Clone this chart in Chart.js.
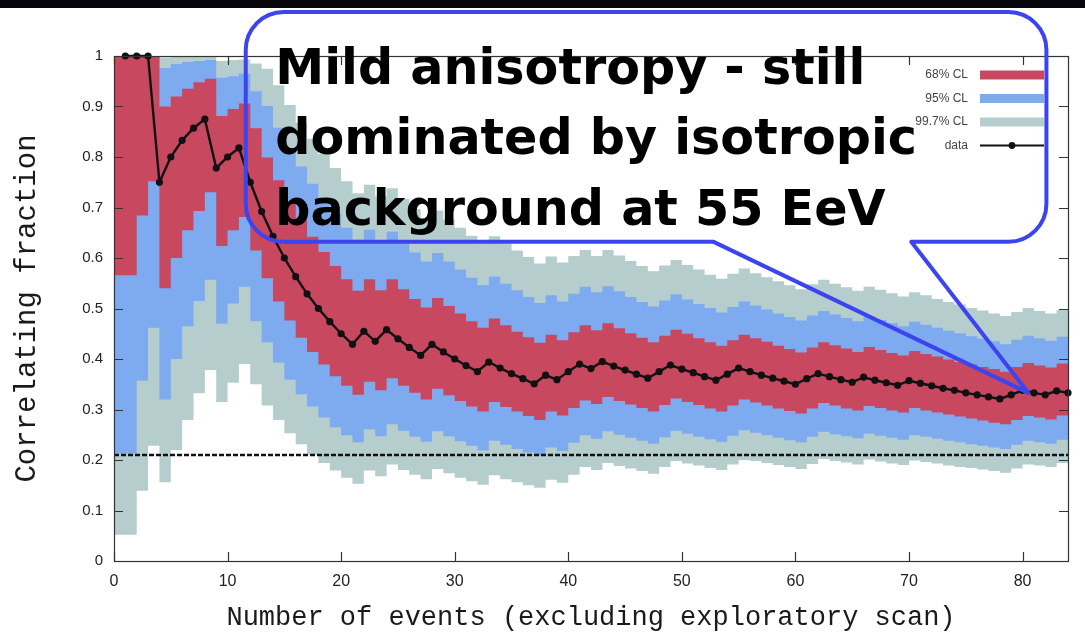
<!DOCTYPE html>
<html>
<head>
<meta charset="utf-8">
<script src="https://cdn.jsdelivr.net/npm/chart.js@4.4.1/dist/chart.umd.min.js"></script>
<style>
  html, body { margin: 0; padding: 0; background: #fff; }
  #wrap { position: relative; width: 1085px; height: 634px; }
</style>
</head>
<body>
<div id="wrap"><canvas id="chart"></canvas></div>
<script>
// correlating fraction vs number of events (n = 1..84)
const fraction = [
  1, 1, 1, 0.75, 0.8, 0.833, 0.857, 0.875, 0.778, 0.8,
  0.818, 0.75, 0.692, 0.643, 0.6, 0.563, 0.529, 0.5, 0.474, 0.45,
  0.429, 0.455, 0.435, 0.458, 0.44, 0.423, 0.407, 0.429, 0.414, 0.4,
  0.387, 0.375, 0.394, 0.382, 0.371, 0.361, 0.351, 0.368, 0.359, 0.375,
  0.39, 0.381, 0.395, 0.386, 0.378, 0.37, 0.362, 0.375, 0.388, 0.38,
  0.373, 0.365, 0.358, 0.37, 0.382, 0.375, 0.368, 0.362, 0.356, 0.35,
  0.361, 0.371, 0.365, 0.359, 0.354, 0.364, 0.358, 0.353, 0.348, 0.357,
  0.352, 0.347, 0.342, 0.338, 0.333, 0.329, 0.325, 0.321, 0.329, 0.338,
  0.333, 0.329, 0.337, 0.333
];

const cl68Low = [
  0.566, 0.684, 0.752, 0.54, 0.6, 0.655, 0.693, 0.73, 0.624, 0.655,
  0.681, 0.615, 0.56, 0.514, 0.476, 0.442, 0.414, 0.389, 0.366, 0.347,
  0.329, 0.355, 0.338, 0.362, 0.347, 0.333, 0.32, 0.341, 0.328, 0.317,
  0.306, 0.296, 0.315, 0.305, 0.296, 0.287, 0.279, 0.296, 0.288, 0.303,
  0.318, 0.311, 0.325, 0.317, 0.31, 0.303, 0.296, 0.309, 0.322, 0.315,
  0.309, 0.302, 0.296, 0.308, 0.32, 0.314, 0.308, 0.302, 0.297, 0.292,
  0.302, 0.313, 0.308, 0.302, 0.298, 0.307, 0.303, 0.298, 0.294, 0.303,
  0.298, 0.294, 0.29, 0.286, 0.282, 0.278, 0.274, 0.271, 0.279, 0.287,
  0.284, 0.28, 0.288, 0.284
];
const cl68High = [
  1, 1, 1, 0.9, 0.92, 0.935, 0.948, 0.955, 0.881, 0.895,
  0.906, 0.857, 0.799, 0.754, 0.713, 0.676, 0.642, 0.612, 0.584, 0.558,
  0.535, 0.558, 0.536, 0.558, 0.538, 0.519, 0.502, 0.521, 0.505, 0.49,
  0.475, 0.462, 0.48, 0.467, 0.454, 0.443, 0.432, 0.448, 0.437, 0.453,
  0.467, 0.457, 0.471, 0.461, 0.451, 0.442, 0.433, 0.446, 0.458, 0.45,
  0.441, 0.433, 0.426, 0.437, 0.448, 0.441, 0.434, 0.426, 0.42, 0.413,
  0.423, 0.433, 0.427, 0.421, 0.414, 0.424, 0.418, 0.412, 0.407, 0.416,
  0.41, 0.405, 0.399, 0.394, 0.389, 0.384, 0.38, 0.375, 0.384, 0.392,
  0.387, 0.383, 0.391, 0.386
];
const cl95Low = [
  0.213, 0.357, 0.462, 0.32, 0.4, 0.465, 0.515, 0.557, 0.47, 0.51,
  0.543, 0.475, 0.433, 0.393, 0.359, 0.33, 0.306, 0.284, 0.265, 0.249,
  0.235, 0.261, 0.247, 0.271, 0.258, 0.246, 0.236, 0.257, 0.247, 0.237,
  0.228, 0.219, 0.238, 0.23, 0.222, 0.215, 0.209, 0.225, 0.218, 0.234,
  0.249, 0.242, 0.257, 0.25, 0.244, 0.238, 0.232, 0.245, 0.258, 0.252,
  0.246, 0.241, 0.236, 0.248, 0.259, 0.254, 0.249, 0.244, 0.239, 0.235,
  0.246, 0.256, 0.251, 0.247, 0.243, 0.252, 0.248, 0.244, 0.24, 0.249,
  0.246, 0.242, 0.238, 0.235, 0.231, 0.228, 0.225, 0.222, 0.23, 0.238,
  0.235, 0.232, 0.24, 0.236
];
const cl95High = [
  1, 1, 1, 0.976, 0.984, 0.988, 0.99, 0.992, 0.957, 0.96,
  0.965, 0.93, 0.901, 0.858, 0.818, 0.781, 0.747, 0.716, 0.687, 0.66,
  0.636, 0.656, 0.633, 0.652, 0.631, 0.611, 0.593, 0.61, 0.593, 0.577,
  0.561, 0.546, 0.563, 0.549, 0.536, 0.523, 0.511, 0.526, 0.514, 0.529,
  0.543, 0.532, 0.544, 0.534, 0.523, 0.513, 0.504, 0.516, 0.528, 0.518,
  0.509, 0.501, 0.492, 0.503, 0.514, 0.506, 0.498, 0.49, 0.483, 0.476,
  0.486, 0.495, 0.488, 0.481, 0.475, 0.484, 0.477, 0.471, 0.465, 0.474,
  0.468, 0.462, 0.456, 0.451, 0.445, 0.44, 0.435, 0.429, 0.438, 0.446,
  0.441, 0.436, 0.444, 0.439
];
const cl997Low = [
  0.052, 0.139, 0.228, 0.156, 0.22, 0.279, 0.332, 0.378, 0.315, 0.353,
  0.39, 0.35, 0.308, 0.279, 0.253, 0.231, 0.211, 0.194, 0.179, 0.165,
  0.153, 0.179, 0.168, 0.191, 0.18, 0.171, 0.162, 0.182, 0.174, 0.165,
  0.158, 0.151, 0.17, 0.162, 0.156, 0.15, 0.145, 0.161, 0.155, 0.171,
  0.186, 0.18, 0.194, 0.188, 0.183, 0.178, 0.173, 0.186, 0.198, 0.193,
  0.189, 0.184, 0.18, 0.191, 0.2, 0.198, 0.194, 0.19, 0.186, 0.182,
  0.192, 0.202, 0.198, 0.195, 0.191, 0.201, 0.197, 0.193, 0.19, 0.199,
  0.196, 0.193, 0.189, 0.186, 0.184, 0.181, 0.178, 0.175, 0.183, 0.191,
  0.189, 0.186, 0.194, 0.191
];
const cl997High = [
  1, 1, 1, 0.997, 0.998, 0.998, 0.999, 0.999, 0.99, 0.992,
  0.993, 0.985, 0.975, 0.942, 0.903, 0.868, 0.836, 0.806, 0.778, 0.752,
  0.728, 0.745, 0.722, 0.738, 0.717, 0.697, 0.679, 0.694, 0.676, 0.66,
  0.644, 0.629, 0.643, 0.629, 0.615, 0.602, 0.589, 0.603, 0.591, 0.604,
  0.616, 0.604, 0.616, 0.605, 0.594, 0.584, 0.574, 0.585, 0.596, 0.586,
  0.577, 0.567, 0.559, 0.569, 0.579, 0.57, 0.562, 0.554, 0.546, 0.538,
  0.548, 0.557, 0.549, 0.542, 0.535, 0.543, 0.537, 0.53, 0.524, 0.532,
  0.526, 0.519, 0.513, 0.508, 0.501, 0.496, 0.49, 0.485, 0.493, 0.501,
  0.495, 0.49, 0.497, 0.492
];

const isotropicLevel = 0.21;
const xTicks = [0, 10, 20, 30, 40, 50, 60, 70, 80];
const yTicks = [0, 0.1, 0.2, 0.3, 0.4, 0.5, 0.6, 0.7, 0.8, 0.9, 1];
const legendLabels = ['68% CL', '95% CL', '99.7% CL', 'data'];
const calloutLines = ['Mild anisotropy - still', 'dominated by isotropic', 'background at 55 EeV'];

const X_MAX = 84;
const COL = {
  cl68: '#c84860',
  cl95: '#7eaaf0',
  cl997: '#b6cdcd',
  data: '#111111',
  axis: '#333333',
  callout: '#3c44ee'
};

// callout placed in data units so it follows the axes
const callout = {
  left: 11.6, right: 82.1, top: 1.087, bottom: 0.632, radius: 38,
  tailFrom: 52.8, tailTo: 70.2, tipX: 80.5, tipY: 0.333,
  textX: 14.2, textRight: 66.2, baselines: [0.944, 0.805, 0.666]
};

const eventPoints = vals => vals.map((y, i) => ({ x: i + 1, y }));
// steps run over [n-1, n], so repeat the first value at x = 0
const stepPoints = vals => [{ x: 0, y: vals[0] }].concat(eventPoints(vals));

function band(label, vals, color, order, fill) {
  return {
    label, data: stepPoints(vals), stepped: 'before',
    borderWidth: 0, pointRadius: 0, backgroundColor: color,
    fill, order
  };
}

const decor = {
  id: 'decor',
  beforeDraw(chart) {
    const { ctx, width } = chart;
    ctx.save();
    ctx.fillStyle = '#ffffff';
    ctx.fillRect(0, 0, width, chart.height);
    ctx.fillStyle = '#06060c';
    ctx.fillRect(0, 0, width, 8);
    ctx.restore();
  },
  afterDraw(chart) {
    const { ctx, chartArea: a, scales: { x, y } } = chart;
    ctx.save();

    // frame + inward ticks (gnuplot style)
    ctx.strokeStyle = COL.axis;
    ctx.lineWidth = 1.2;
    ctx.strokeRect(a.left + 0.5, a.top + 0.5, a.right - a.left, a.bottom - a.top);
    ctx.beginPath();
    xTicks.forEach(v => {
      const px = Math.round(x.getPixelForValue(v)) + 0.5;
      ctx.moveTo(px, a.bottom); ctx.lineTo(px, a.bottom - 9);
      ctx.moveTo(px, a.top); ctx.lineTo(px, a.top + 9);
    });
    yTicks.forEach(v => {
      const py = Math.round(y.getPixelForValue(v)) + 0.5;
      ctx.moveTo(a.left, py); ctx.lineTo(a.left + 9, py);
      ctx.moveTo(a.right, py); ctx.lineTo(a.right - 9, py);
    });
    ctx.stroke();

    // key, top right inside the frame
    const swatch = [COL.cl68, COL.cl95, COL.cl997];
    ctx.font = '12px "Liberation Sans Narrow", "Liberation Sans", sans-serif';
    ctx.textAlign = 'right';
    ctx.textBaseline = 'middle';
    legendLabels.forEach((lab, i) => {
      const ry = a.top + 19 + i * 23.5;
      ctx.fillStyle = '#444';
      ctx.fillText(lab, a.right - 100, ry);
      if (i < 3) {
        ctx.fillStyle = swatch[i];
        ctx.fillRect(a.right - 88, ry - 4.5, 64, 9);
      } else {
        ctx.strokeStyle = COL.data;
        ctx.lineWidth = 2;
        ctx.beginPath();
        ctx.moveTo(a.right - 88, ry); ctx.lineTo(a.right - 24, ry);
        ctx.stroke();
        ctx.fillStyle = COL.data;
        ctx.beginPath();
        ctx.arc(a.right - 56, ry, 3.4, 0, Math.PI * 2);
        ctx.fill();
      }
    });

    // speech-bubble annotation
    const L = x.getPixelForValue(callout.left), R = x.getPixelForValue(callout.right);
    const T = y.getPixelForValue(callout.top), B = y.getPixelForValue(callout.bottom);
    const r = callout.radius;
    ctx.strokeStyle = COL.callout;
    ctx.lineWidth = 4;
    ctx.lineJoin = 'round';
    ctx.beginPath();
    ctx.moveTo(L + r, T);
    ctx.lineTo(R - r, T);
    ctx.arcTo(R, T, R, T + r, r);
    ctx.lineTo(R, B - r);
    ctx.arcTo(R, B, R - r, B, r);
    ctx.lineTo(x.getPixelForValue(callout.tailTo), B);
    ctx.lineTo(x.getPixelForValue(callout.tipX), y.getPixelForValue(callout.tipY));
    ctx.lineTo(x.getPixelForValue(callout.tailFrom), B);
    ctx.lineTo(L + r, B);
    ctx.arcTo(L, B, L, B - r, r);
    ctx.lineTo(L, T + r);
    ctx.arcTo(L, T, L + r, T, r);
    ctx.closePath();
    ctx.stroke();

    const family = '"DejaVu Sans", "Open Sans", sans-serif';
    ctx.font = 'bold 100px ' + family;
    const tx = x.getPixelForValue(callout.textX);
    const fit = (x.getPixelForValue(callout.textRight) - tx) / ctx.measureText(calloutLines[0]).width;
    ctx.font = 'bold ' + (100 * fit).toFixed(1) + 'px ' + family;
    ctx.fillStyle = '#000';
    ctx.textAlign = 'left';
    ctx.textBaseline = 'alphabetic';
    calloutLines.forEach((line, i) => ctx.fillText(line, tx, y.getPixelForValue(callout.baselines[i])));
    ctx.restore();
  }
};

Chart.defaults.font.family = '"Liberation Sans", Arial, sans-serif';
Chart.defaults.color = '#222';

new Chart(document.getElementById('chart').getContext('2d'), {
  type: 'line',
  data: {
    datasets: [
      {
        label: 'data', data: eventPoints(fraction),
        borderColor: COL.data, borderWidth: 2.4,
        pointRadius: 3.6, pointBackgroundColor: COL.data, pointBorderWidth: 0,
        fill: false, order: 0, clip: 6
      },
      {
        label: 'isotropic', data: [{ x: 0, y: isotropicLevel }, { x: X_MAX, y: isotropicLevel }],
        borderColor: COL.data, borderWidth: 2.5, borderDash: [5, 2],
        pointRadius: 0, fill: false, order: 1
      },
      band('68% CL', cl68High, COL.cl68, 2, '+1'),
      band('68% CL low', cl68Low, COL.cl68, 2, false),
      band('95% CL', cl95High, COL.cl95, 3, '+1'),
      band('95% CL low', cl95Low, COL.cl95, 3, false),
      band('99.7% CL', cl997High, COL.cl997, 4, '+1'),
      band('99.7% CL low', cl997Low, COL.cl997, 4, false)
    ]
  },
  options: {
    responsive: true, maintainAspectRatio: false, animation: false,
    layout: { padding: { top: 56, right: 17, bottom: 0, left: 0 } },
    plugins: { legend: { display: false }, tooltip: { enabled: false } },
    scales: {
      x: {
        type: 'linear', min: 0, max: X_MAX,
        afterBuildTicks: s => { s.ticks = xTicks.map(v => ({ value: v })); },
        afterFit: s => { s.height = 73; },
        grid: { display: false, drawTicks: false }, border: { display: false },
        ticks: { font: { size: 16 }, color: '#222', padding: 11, maxRotation: 0 },
        title: {
          display: true, text: 'Number of events (excluding exploratory scan)',
          font: { family: '"Liberation Mono", "DejaVu Sans Mono", monospace', size: 27 },
          color: '#1a1a1a', padding: { top: 0, bottom: 0 }
        }
      },
      y: {
        min: 0, max: 1,
        afterBuildTicks: s => { s.ticks = yTicks.map(v => ({ value: v })); },
        afterFit: s => { s.width = 114; },
        grid: { display: false, drawTicks: false }, border: { display: false },
        ticks: { font: { size: 15 }, color: '#222', padding: 11, callback: v => String(+v.toFixed(1)) },
        title: {
          display: true, text: 'Correlating fraction',
          font: { family: '"Liberation Mono", "DejaVu Sans Mono", monospace', size: 29 },
          color: '#1a1a1a', padding: { top: 10, bottom: 0 }
        }
      }
    }
  },
  plugins: [decor]
});
</script>
</body>
</html>
